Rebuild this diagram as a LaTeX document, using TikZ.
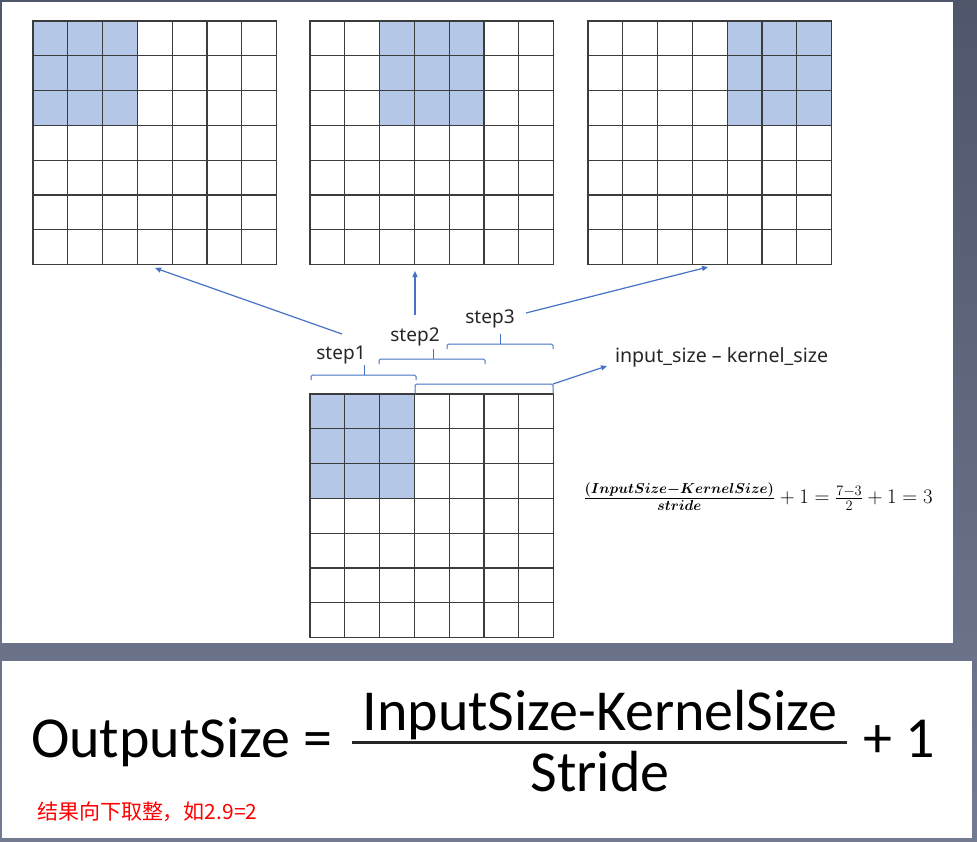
\documentclass[tikz,border=0pt]{standalone}
\usepackage{amsmath}
\usepackage{fontspec}
\setmainfont{Carlito}
\newfontfamily\labelfont{Noto Sans}
\newfontfamily\cjkfont{Noto Sans CJK SC}
\usetikzlibrary{positioning,arrows.meta}

\definecolor{panelbg}{RGB}{98,108,134}
\definecolor{cellblue}{RGB}{180,199,231}
\definecolor{linkblue}{RGB}{68,114,196}
\definecolor{gridgray}{RGB}{60,60,60}

% 7x7 grid, top left at (#1,#2), 3x3 window from column #3
\newcommand{\kgrid}[3]{%
	\fill[cellblue] ({#1+#3*34.8},#2) rectangle ++(104.4,104.4);
	\foreach \k in {0,...,7}{
		\draw[gridline] ({#1+\k*34.8},#2) -- ++(0,243.6);
		\draw[gridline] (#1,{#2+\k*34.8}) -- ++(243.6,0);
	}
}
% bracket from #1 to #2 at height #3, tick at #4
\newcommand{\stepbrace}[4]{%
	\draw[brace] (#1,{#3+5}) -- (#1,#3) -- (#2,#3) -- (#2,{#3+5});
	\draw[brace] (#4,#3) -- (#4,{#3-10});
}

\begin{document}
\begin{tikzpicture}
		[x=1pt, y=-1pt,
		every node/.style={inner sep=0pt, outer sep=0pt},
		gridline/.style={draw=gridgray, line width=1.3pt, line cap=rect},
		link/.style={draw=linkblue, line width=1.2pt, -{Triangle[length=6pt,width=5pt]}},
		brace/.style={draw=linkblue, line width=1pt, rounded corners=1.5pt},
		steplabel/.style={font=\labelfont\fontsize{19}{22}\selectfont, text=black!85, anchor=base},
		bigtxt/.style={font=\fontsize{58}{64}\selectfont, anchor=base},
		]
		\useasboundingbox (0,0) rectangle (977,841);
		\shade[top color=panelbg!80!black, bottom color=panelbg!90!white] (0,0) rectangle (977,841);
		\fill[white] (2,2) rectangle (953,643);
		\fill[white] (2,661) rectangle (972,838);
		
		% the three steps
		\kgrid{33}{21}{0}
		\kgrid{310}{21}{2}
		\kgrid{588}{21}{4}
		% input
		\kgrid{310}{394}{0}
		
		\coordinate (g1) at (155,268);
		\coordinate (g2) at (415,271);
		\coordinate (g3) at (708,267);
		
		\stepbrace{311}{416}{375}{364}
		\stepbrace{379}{485}{359}{433}
		\stepbrace{447}{553}{344}{500}
		\draw[brace] (415,394) -- (415,384) -- (553,384) -- (553,394);
		\coordinate (ib) at (553,384);
		
		\node[steplabel] (s1) at (341,359) {step1};
		\node[steplabel] (s2) at (415,341) {step2};
		\node[steplabel] (s3) at (490,323) {step3};
		\node[steplabel, anchor=base west, font=\labelfont\fontsize{19.6}{22}\selectfont] (inlab) at (615,362) {input\_size – kernel\_size};
		
		\coordinate (t1) at (342,334);
		\coordinate (t2) at (415,315);
		\coordinate (t3) at (526,313);
		\coordinate (t4) at (607,366);
		\draw[link] (t1) -- (g1);
		\draw[link] (t2) -- (g2);
		\draw[link] (t3) -- (g3);
		\draw[link] (ib) -- (t4);
		
		\node[font=\fontsize{22.5}{26}\selectfont] (calc) at (758,497)
			{$\frac{\boldsymbol{(InputSize-KernelSize)}}{\boldsymbol{stride}}+1=\frac{7-3}{2}+1=3$};
		
		% output size formula
		\node[bigtxt, anchor=base west] (outsz) at (31,757) {OutputSize};
		\node[bigtxt] (eqsign) at (318,757) {=};
		\node[bigtxt] (numer) at (600,730) {InputSize-KernelSize};
		\node[bigtxt] (denom) at (600,791) {Stride};
		\draw[line width=3pt, black!85] (352,742) -- (847,742);
		\node[bigtxt, anchor=base west] (plusone) at (863,757) {+ 1};
		\node[font=\cjkfont\fontsize{21}{25}\selectfont, text=red, anchor=west] (note) at (37,812) {结果向下取整，如2.9=2};
	\end{tikzpicture}
\end{document}
